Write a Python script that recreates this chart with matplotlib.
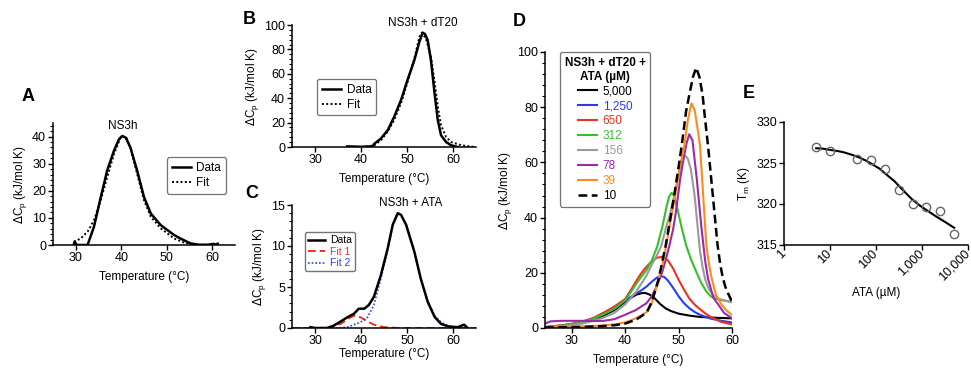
import matplotlib
matplotlib.use('Agg')
import matplotlib.pyplot as plt
import matplotlib.transforms as mtransforms
from matplotlib.ticker import MultipleLocator, FixedLocator, LogLocator, NullFormatter

plt.rcParams['font.family'] = ['Liberation Sans', 'DejaVu Sans']
plt.rcParams['font.size'] = 8.5

# Panel A: NS3h
a_data_t = [29.6, 29.8, 30.1, 30.5, 31.5, 32.6, 34.0, 35.5, 36.9, 38.4, 39.5, 40.2, 41.0, 42.0, 43.5, 45.0, 46.5, 48.7, 51.6, 53.0, 55.2, 57.0, 59.0, 60.2, 60.8, 61.2]
a_data_v = [0.3, 1.3, 0.2, 0.0, 0.0, 0.0, 6.7, 17.7, 27.4, 34.8, 39.0, 40.2, 39.6, 36.0, 27.4, 17.7, 11.6, 7.3, 3.7, 2.4, 0.6, 0.1, 0.1, 0.4, 0.2, 0.5]
a_fit_t = [29.6, 31.1, 32.6, 34.0, 35.5, 36.9, 38.4, 39.9, 41.0, 42.0, 43.5, 45.0, 46.5, 48.7, 51.6, 53.8, 56.0, 58.0, 60.0]
a_fit_v = [1.2, 2.4, 4.9, 9.1, 16.5, 25.0, 33.5, 39.9, 40.0, 36.0, 26.2, 16.5, 10.4, 6.1, 2.4, 0.9, 0.2, 0.0, 0.0]

# Panel B: NS3h + dT20
b_data_t = [37.0, 40.0, 42.5, 42.9, 44.3, 45.8, 47.2, 48.7, 50.1, 51.6, 52.7, 53.4, 53.9, 54.5, 55.2, 56.0, 56.7, 57.4, 58.5, 59.6, 61.0]
b_data_v = [0.5, 0.2, 0.5, 2.7, 6.8, 13.7, 24.7, 38.4, 54.8, 71.2, 86.3, 93.7, 92.6, 87.7, 71.2, 43.8, 21.9, 9.6, 4.1, 1.4, 0.0]
b_fit_t = [41.0, 42.9, 44.3, 45.8, 47.2, 48.7, 50.1, 51.6, 52.7, 53.2, 54.1, 55.2, 56.0, 56.7, 57.4, 58.5, 59.6, 61.8, 64.7]
b_fit_v = [0.2, 1.4, 5.5, 12.5, 22.0, 36.0, 53.0, 72.6, 90.4, 93.7, 89.0, 74.0, 53.4, 32.9, 17.8, 8.2, 4.1, 1.4, 0.0]

# Panel C: NS3h + ATA
c_data_t = [29.0, 30.0, 32.7, 34.1, 35.6, 37.0, 38.5, 39.5, 40.7, 41.7, 42.8, 44.3, 45.8, 46.9, 48.0, 48.7, 49.8, 51.6, 53.0, 54.5, 56.0, 57.4, 58.9, 61.0, 62.4, 63.0]
c_data_v = [0.1, 0.0, 0.0, 0.3, 0.8, 1.3, 1.75, 2.35, 2.35, 2.8, 3.8, 6.4, 9.7, 12.6, 14.0, 13.8, 12.6, 9.3, 6.0, 3.2, 1.35, 0.5, 0.2, 0.1, 0.4, 0.1]
c_fit1_t = [25.0, 31.0, 33.3, 35.6, 37.4, 38.5, 39.9, 41.4, 42.8, 45.0, 48.0, 65.0]
c_fit1_v = [0.0, 0.0, 0.1, 0.5, 1.2, 1.5, 1.3, 0.8, 0.4, 0.1, 0.0, 0.0]
c_fit2_t = [25.0, 35.0, 37.0, 39.9, 41.4, 42.8, 44.3, 45.8, 46.9, 48.0, 48.7, 49.8, 51.6, 53.0, 54.5, 56.0, 57.4, 58.8, 60.0, 62.0, 65.0]
c_fit2_v = [0.0, 0.0, 0.1, 0.7, 1.3, 2.8, 6.0, 9.5, 12.5, 14.0, 13.8, 12.6, 9.3, 6.0, 3.3, 1.5, 0.7, 0.3, 0.1, 0.0, 0.0]

# Panel D: NS3h + dT20 + ATA (uM)
d_labels = ['5,000', '1,250', '650', '312', '156', '78', '39', '10']
d_colors = ['black', '#2a3cf0', '#f0301e', '#33c02a', '#9a9a9a', '#9b2aa8', '#ff8a1c', 'black']

d_t_5000 = [25, 27, 30, 32, 34, 36, 38, 40, 41, 42, 43, 43.7, 44.5, 45.5, 46.5, 47.5, 48.5, 50, 52, 54, 57, 60]
d_v_5000 = [0.3, 0.5, 1.2, 2.0, 3.0, 4.5, 6.5, 9.5, 10.8, 12.0, 12.6, 12.7, 12.2, 10.8, 8.8, 7.2, 6.2, 5.2, 4.5, 4.0, 3.7, 3.5]
d_t_1250 = [25, 28, 31, 34, 36, 38, 40, 42, 43, 44, 45, 46, 46.6, 47.3, 48, 49, 50, 51, 52, 53, 54, 56, 58, 60]
d_v_1250 = [0.3, 0.8, 1.8, 3.5, 5.0, 7.0, 10.0, 12.4, 13.6, 15.0, 16.8, 18.3, 18.8, 18.5, 17.2, 14.5, 11.5, 9.0, 7.2, 5.8, 4.8, 3.4, 2.6, 2.0]
d_t_650 = [25, 28, 30, 32, 34, 36, 38, 40, 41, 42, 43, 44, 45, 46, 47.1, 48, 49, 50, 51, 52, 53, 54, 55, 56, 58, 60]
d_v_650 = [0.4, 1.0, 1.5, 2.2, 3.6, 5.6, 7.8, 10.5, 13.5, 16.8, 19.8, 22.2, 24.2, 25.5, 25.8, 24.5, 21.5, 17.5, 14.0, 10.7, 8.5, 6.8, 5.3, 4.0, 2.2, 1.3]
d_t_312 = [25, 28, 30, 32, 34, 36, 38, 40, 41, 42, 43, 44, 45, 46, 47, 47.7, 48.2, 48.7, 49.2, 49.8, 50.5, 51.4, 52.3, 53.3, 54.2, 55.2, 56, 57, 58, 59, 60]
d_v_312 = [0.3, 0.8, 1.3, 2.0, 3.3, 5.0, 7.0, 10.0, 12.8, 15.8, 18.5, 21.0, 24.5, 29.5, 37.0, 43.5, 47.5, 49.0, 47.8, 43.0, 37.0, 30.0, 25.0, 20.4, 16.5, 13.2, 11.5, 10.6, 10.1, 9.8, 9.5]
d_t_156 = [25, 28, 30, 32, 34, 36, 38, 40, 42, 43, 44, 45, 46, 46.8, 47.6, 48.5, 49.2, 49.8, 50.5, 51.1, 51.7, 52.3, 53, 53.5, 54, 54.5, 55, 55.7, 56.5, 57.5, 58.5, 60]
d_v_156 = [0.3, 0.6, 1.0, 1.6, 2.6, 3.8, 5.5, 8.5, 13.0, 16.0, 19.0, 23.0, 26.5, 30.0, 36.0, 42.0, 48.0, 54.0, 59.0, 62.7, 61.5, 57.5, 48.0, 38.0, 28.0, 22.0, 17.5, 14.0, 12.0, 10.6, 10.0, 9.3]
d_t_78 = [25, 26, 28, 30, 32, 34, 36, 38, 40, 42, 44, 45, 46, 46.9, 47.5, 48.3, 49, 49.5, 50.3, 51, 51.5, 52, 52.6, 53.4, 54, 54.3, 55, 55.5, 56.5, 57.5, 58.5, 60]
d_v_78 = [1.6, 2.4, 2.6, 2.6, 2.6, 2.5, 2.6, 3.2, 4.8, 6.5, 9.0, 11.5, 15.5, 20.0, 24.0, 30.0, 36.0, 42.0, 54.0, 62.0, 67.0, 70.2, 68.0, 54.2, 42.0, 36.0, 24.0, 18.0, 11.0, 8.3, 5.5, 3.5]
d_t_39 = [25, 30, 35, 38, 40, 42, 43, 44.1, 45, 46.3, 47, 47.7, 48.5, 49.4, 50.2, 51.1, 51.7, 52.4, 53, 53.5, 54, 54.6, 55.2, 55.7, 56.2, 57, 58.1, 59, 60]
d_v_39 = [0.2, 0.4, 0.8, 1.3, 2.0, 3.5, 4.5, 5.9, 9.0, 18.0, 23.0, 30.0, 39.0, 48.2, 58.0, 66.3, 75.0, 81.4, 79.0, 73.0, 66.3, 48.2, 30.0, 23.0, 18.0, 12.0, 8.3, 6.3, 4.7]
d_t_10 = [25, 30, 35, 38, 40, 42, 43, 44.1, 45, 46.3, 47.6, 48.4, 49.2, 49.9, 50.6, 51.4, 52, 52.7, 53.3, 53.9, 54.5, 55, 55.5, 56.4, 57.3, 57.8, 58.3, 58.9, 59.4, 60]
d_v_10 = [0.2, 0.3, 0.6, 1.0, 1.6, 3.0, 4.2, 5.9, 9.5, 18.0, 30.0, 39.0, 48.2, 57.0, 66.3, 78.4, 84.4, 91.0, 94.3, 91.0, 84.4, 75.0, 66.3, 48.2, 30.0, 23.0, 18.0, 14.0, 12.0, 9.5]

# Panel E: Tm vs ATA
e_ata = [5, 10, 39, 78, 156, 312, 625, 1250, 2500, 5000]
e_tm = [326.9, 326.5, 325.5, 325.4, 324.3, 321.7, 320.0, 319.6, 319.1, 316.3]
e_fit_x = [5, 7, 10, 15, 20, 30, 40, 60, 80, 120, 160, 250, 400, 600, 900, 1300, 2000, 3000, 5000]
e_fit_y = [326.8, 326.75, 326.6, 326.45, 326.3, 326.0, 325.75, 325.3, 324.9, 324.3, 323.7, 322.8, 321.6, 320.6, 319.8, 319.2, 318.5, 317.9, 317.1]
e_ticks = [1, 10, 100, 1000, 10000]
e_ticklabels = ['1', '10', '100', '1,000', '10,000']

W, H = 971, 369
fig = plt.figure(figsize=(W / 100, H / 100), dpi=100)


def box(left, right, top, bottom):
    return [left / W, 1 - bottom / H, (right - left) / W, (bottom - top) / H]


def style(ax):
    for s in ['top', 'right']:
        ax.spines[s].set_visible(False)
    for s in ['left', 'bottom']:
        ax.spines[s].set_linewidth(1.1)
    ax.tick_params(direction='out', length=3.5, width=1.0, pad=1.5, labelsize=9)
    ax.tick_params(which='minor', direction='out', length=2, width=0.8)


def legend(ax, anchor, colors=None, **kw):
    leg = ax.legend(loc='upper left', bbox_to_anchor=anchor, borderaxespad=0, fancybox=True,
                    handlelength=1.6, handletextpad=0.5, borderpad=0.4, labelspacing=0.25,
                    framealpha=1, fontsize=8.5, **kw)
    leg.get_frame().set_edgecolor('0.45')
    leg.get_frame().set_linewidth(0.9)
    if colors:
        for txt, c in zip(leg.get_texts(), colors):
            txt.set_color(c)
    return leg


ylab = r'$\Delta$C$_\mathregular{p}$ (kJ/mol K)'

# A
ax = fig.add_axes(box(53, 235, 123, 245))
ax.plot(a_data_t, a_data_v, color='black', lw=1.8, label='Data')
ax.plot(a_fit_t, a_fit_v, color='black', lw=1.4, ls=(0, (1, 1.2)), label='Fit')
ax.set_xlim(25, 65)
ax.set_ylim(0, 45)
ax.xaxis.set_major_locator(FixedLocator([30, 40, 50, 60]))
ax.yaxis.set_major_locator(FixedLocator([0, 10, 20, 30, 40]))
ax.yaxis.set_minor_locator(MultipleLocator(2))
style(ax)
ax.set_xlabel('Temperature (°C)', fontsize=8.5, labelpad=5)
ax.set_ylabel(ylab, fontsize=8.5, labelpad=2)
ax.text(40.3, 44, 'NS3h', ha='center', va='center', fontsize=8.5)
legend(ax, (0.626, 0.72))
fig.text(22 / W, 1 - 96 / H, 'A', fontsize=13, fontweight='bold', va='center')

# B
ax = fig.add_axes(box(292, 476, 25, 147))
ax.plot(b_data_t, b_data_v, color='black', lw=1.8, label='Data')
ax.plot(b_fit_t, b_fit_v, color='black', lw=1.4, ls=(0, (1, 1.2)), label='Fit')
ax.set_xlim(25, 65)
ax.set_ylim(0, 100)
ax.xaxis.set_major_locator(FixedLocator([30, 40, 50, 60]))
ax.yaxis.set_major_locator(MultipleLocator(20))
ax.yaxis.set_minor_locator(MultipleLocator(4))
style(ax)
ax.set_xlabel('Temperature (°C)', fontsize=8.5, labelpad=5)
ax.set_ylabel(ylab, fontsize=8.5, labelpad=2)
ax.text(53.5, 101.5, 'NS3h + dT20', ha='center', va='center', fontsize=8.5)
legend(ax, (0.136, 0.557))
fig.text(243 / W, 1 - 19 / H, 'B', fontsize=13, fontweight='bold', va='center')

# C
ax = fig.add_axes(box(292, 476, 205, 328))
ax.plot(c_fit1_t, c_fit1_v, color='#f0301e', lw=1.4, ls=(0, (4, 2)), label='Fit 1')
ax.plot(c_fit2_t, c_fit2_v, color='#2a3cf0', lw=1.2, ls=(0, (1, 1.2)), label='Fit 2')
ax.plot(c_data_t, c_data_v, color='black', lw=1.8, label='Data')
ax.set_xlim(25, 65)
ax.set_ylim(0, 15)
ax.xaxis.set_major_locator(FixedLocator([30, 40, 50, 60]))
ax.yaxis.set_major_locator(MultipleLocator(5))
ax.yaxis.set_minor_locator(MultipleLocator(1))
style(ax)
ax.set_xlabel('Temperature (°C)', fontsize=8.5, labelpad=1)
ax.set_ylabel(ylab, fontsize=8.5, labelpad=2)
ax.text(50.7, 15.2, 'NS3h + ATA', ha='center', va='center', fontsize=8.5)
h, l = ax.get_legend_handles_labels()
order = [2, 0, 1]
leg = ax.legend([h[i] for i in order], [l[i] for i in order], loc='upper left',
                bbox_to_anchor=(0.07, 0.78), borderaxespad=0, fancybox=True, handlelength=1.6,
                handletextpad=0.5, borderpad=0.3, labelspacing=0.15, framealpha=1, fontsize=7.5)
leg.get_frame().set_edgecolor('0.45')
for txt, c in zip(leg.get_texts(), ['black', '#f0301e', '#2a3cf0']):
    txt.set_color(c)
fig.text(245 / W, 1 - 194 / H, 'C', fontsize=13, fontweight='bold', va='center')

# D
ax = fig.add_axes(box(545, 732, 52, 328))
d_t = [d_t_5000, d_t_1250, d_t_650, d_t_312, d_t_156, d_t_78, d_t_39, d_t_10]
d_v = [d_v_5000, d_v_1250, d_v_650, d_v_312, d_v_156, d_v_78, d_v_39, d_v_10]
for t, v, c, lab in zip(d_t, d_v, d_colors, d_labels):
    ls = (0, (3.5, 1.8)) if lab == '10' else '-'
    ax.plot(t, v, color=c, lw=1.5 if lab != '10' else 1.8, ls=ls, label=lab)
ax.set_xlim(25, 60)
ax.set_ylim(0, 100)
ax.xaxis.set_major_locator(FixedLocator([30, 40, 50, 60]))
ax.yaxis.set_major_locator(MultipleLocator(20))
ax.yaxis.set_minor_locator(MultipleLocator(4))
style(ax)
ax.set_xlabel('Temperature (°C)', fontsize=8.5, labelpad=5)
ax.set_ylabel(ylab, fontsize=8.5, labelpad=2)
leg = legend(ax, (0.08, 1.0), colors=d_colors, title='NS3h + dT20 +\nATA (µM)',
             title_fontproperties={'weight': 'bold', 'size': 8.5})
leg.get_title().set_multialignment('center')
fig.text(513 / W, 1 - 21 / H, 'D', fontsize=13, fontweight='bold', va='center')

# E
ax = fig.add_axes(box(784, 968, 122, 245))
ax.plot(e_fit_x, e_fit_y, color='black', lw=1.5)
ax.plot(e_ata, e_tm, 'o', ms=6, mfc='none', mec='0.4', mew=1.0)
ax.set_xscale('log')
ax.set_xlim(1, 10000)
ax.set_ylim(315, 330)
ax.xaxis.set_major_locator(FixedLocator(e_ticks))
ax.xaxis.set_minor_locator(LogLocator(base=10, subs=range(2, 10)))
ax.xaxis.set_minor_formatter(NullFormatter())
ax.set_xticklabels(e_ticklabels, rotation=45, ha='right', va='center', rotation_mode='anchor')
shift = mtransforms.ScaledTranslation(-5 / 100, -4 / 100, fig.dpi_scale_trans)
for lab in ax.get_xticklabels():
    lab.set_transform(lab.get_transform() + shift)
ax.yaxis.set_major_locator(MultipleLocator(5))
style(ax)
ax.set_xlabel('ATA (µM)', fontsize=8.5, labelpad=3)
ax.set_ylabel(r'T$_\mathregular{m}$ (K)', fontsize=8.5, labelpad=3)
fig.text(743 / W, 1 - 94 / H, 'E', fontsize=13, fontweight='bold', va='center')

fig.savefig('out.png', dpi=100)
